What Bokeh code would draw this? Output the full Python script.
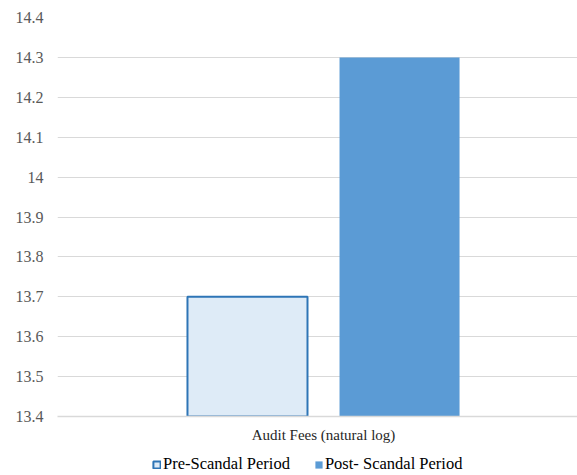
from bokeh.plotting import figure
from bokeh.layouts import column
from bokeh.models import Range1d, FixedTicker, Legend, LegendItem, ColumnDataSource
from bokeh.transform import dodge
from bokeh.embed import file_html
from bokeh.resources import INLINE

# ---- data ----
categories = ["Audit Fees (natural log)"]
pre_scandal = [13.7]
post_scandal = [14.3]
series_names = ["Pre-Scandal Period", "Post- Scandal Period"]
y_ticks = [13.4, 13.5, 13.6, 13.7, 13.8, 13.9, 14.0, 14.1, 14.2, 14.3, 14.4]
y_tick_labels = ["13.4", "13.5", "13.6", "13.7", "13.8", "13.9", "14", "14.1", "14.2", "14.3", "14.4"]
baseline = 13.4

src = ColumnDataSource(dict(x=list(range(len(categories))), pre=pre_scandal, post=post_scandal))

FONT = "Liberation Serif"
PRE_STYLE = dict(fill_color="#deebf7", line_color="#2e75b6", line_width=2)
POST_STYLE = dict(fill_color="#5b9bd5", line_color=None)

p = figure(width=577, height=445, output_backend="svg", toolbar_location=None,
           x_range=Range1d(-0.5, 0.4774), y_range=Range1d(y_ticks[0], y_ticks[-1]),
           min_border_left=57, min_border_right=0, min_border_top=17, min_border_bottom=29)
p.outline_line_color = None
p.background_fill_color = "white"
p.border_fill_color = "white"

bw = 0.2256
off = 0.1429
p.vbar(x=dodge("x", -off, range=p.x_range), top="pre", bottom=baseline, width=bw, source=src, **PRE_STYLE)
p.vbar(x=dodge("x", off, range=p.x_range), top="post", bottom=baseline, width=bw, source=src, **POST_STYLE)

# axes
p.yaxis.ticker = FixedTicker(ticks=y_ticks)
p.yaxis.major_label_overrides = {t: l for t, l in zip(y_ticks, y_tick_labels)}
p.yaxis.axis_line_color = None
p.yaxis.major_tick_line_color = None
p.yaxis.minor_tick_line_color = None
p.yaxis.major_tick_out = 0
p.yaxis.major_label_standoff = 14
p.yaxis.major_label_text_font = FONT
p.yaxis.major_label_text_font_size = "16px"
p.yaxis.major_label_text_color = "#595959"

p.xaxis.ticker = FixedTicker(ticks=list(range(len(categories))))
p.xaxis.major_label_overrides = {i: c for i, c in enumerate(categories)}
p.xaxis.axis_line_color = "#d9d9d9"
p.xaxis.axis_line_width = 1.5
p.xaxis.major_tick_line_color = None
p.xaxis.minor_tick_line_color = None
p.xaxis.major_tick_out = 0
p.xaxis.major_label_standoff = 10
p.xaxis.major_label_text_font = FONT
p.xaxis.major_label_text_font_size = "15px"
p.xaxis.major_label_text_color = "#262626"

p.xgrid.grid_line_color = None
p.ygrid.grid_line_color = "#d9d9d9"
p.ygrid.grid_line_width = 1

# legend strip (separate small figure below the chart; its frame aligns with the chart's)
lg = figure(width=577, height=30, output_backend="svg", toolbar_location=None,
            x_axis_location=None, y_axis_location=None,
            x_range=Range1d(0, 1), y_range=Range1d(0, 1),
            min_border_left=0, min_border_right=0, min_border_top=0, min_border_bottom=0)
lg.outline_line_color = None
lg.border_fill_color = "white"
lg.background_fill_color = "white"
lg.grid.visible = False
r_pre = lg.vbar(x="x", top="pre", width=0.1, source=src, visible=False, **PRE_STYLE)
r_post = lg.vbar(x="x", top="post", width=0.1, source=src, visible=False, **POST_STYLE)

legend = Legend(items=[LegendItem(label=series_names[0], renderers=[r_pre]),
                       LegendItem(label=series_names[1], renderers=[r_post])],
                orientation="horizontal", location=(95, 1),
                label_text_font=FONT, label_text_font_size="16.5px", label_text_color="#000000",
                glyph_width=9, glyph_height=9, label_standoff=2, spacing=24,
                padding=0, margin=0, border_line_color=None, background_fill_alpha=0,
                inactive_fill_alpha=0)
lg.add_layout(legend, "center")

layout = column(p, lg, spacing=0)
open("out.html", "w").write(file_html(layout, INLINE))
